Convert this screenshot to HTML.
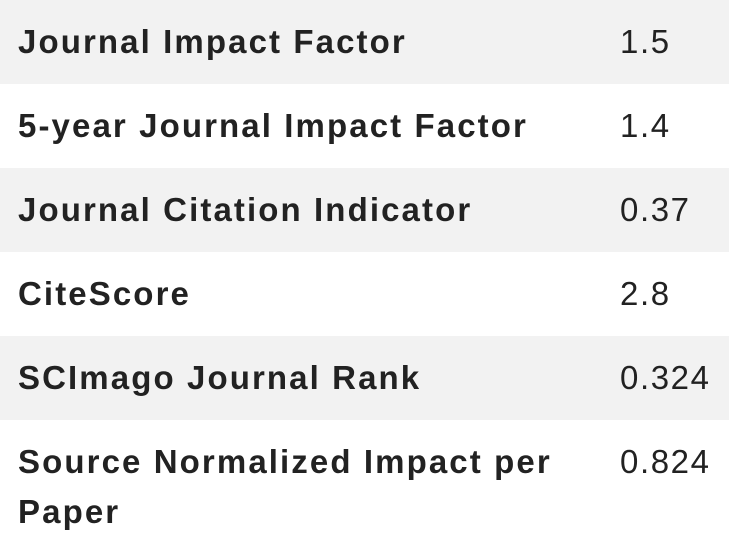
<!DOCTYPE html>
<html><head><meta charset="utf-8"><style>
html,body{margin:0;padding:0;width:729px;height:548px;overflow:hidden;background:#fff;}
.row{position:absolute;left:0;width:729px;font-family:"Liberation Sans",sans-serif;font-size:33px;color:#222;}
.g{background:#f2f2f2;}
.k{position:absolute;left:18px;font-weight:bold;letter-spacing:2.1px;line-height:50px;white-space:nowrap;}
.v{position:absolute;left:620px;line-height:50px;letter-spacing:1.6px;}
</style></head><body>
<div class="row g" style="top:0;height:84px"><div class="k" style="top:17px">Journal Impact Factor</div><div class="v" style="top:17px">1.5</div></div>
<div class="row" style="top:84px;height:84px"><div class="k" style="top:17px">5-year Journal Impact Factor</div><div class="v" style="top:17px">1.4</div></div>
<div class="row g" style="top:168px;height:84px"><div class="k" style="top:17px">Journal Citation Indicator</div><div class="v" style="top:17px">0.37</div></div>
<div class="row" style="top:252px;height:84px"><div class="k" style="top:17px">CiteScore</div><div class="v" style="top:17px">2.8</div></div>
<div class="row g" style="top:336px;height:84px"><div class="k" style="top:17px">SCImago Journal Rank</div><div class="v" style="top:17px">0.324</div></div>
<div class="row" style="top:420px;height:128px"><div class="k" style="top:17px">Source Normalized Impact per<br>Paper</div><div class="v" style="top:17px">0.824</div></div>
</body></html>
